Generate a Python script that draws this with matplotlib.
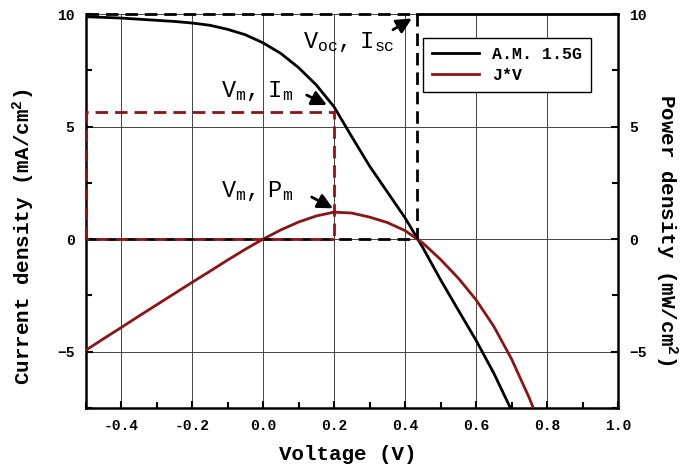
import matplotlib
matplotlib.use("Agg")
import matplotlib.pyplot as plt
from matplotlib.ticker import MultipleLocator

plt.rcParams['font.family'] = ['Liberation Mono', 'DejaVu Sans Mono']
plt.rcParams['mathtext.fontset'] = 'custom'
plt.rcParams['mathtext.rm'] = 'Liberation Mono'
plt.rcParams['mathtext.it'] = 'Liberation Mono'
plt.rcParams['mathtext.bf'] = 'Liberation Mono:bold'

# measured J-V curve under A.M. 1.5G
voltage = [-0.5, -0.45, -0.4, -0.35, -0.3, -0.25, -0.2, -0.15, -0.1, -0.05,
           0.0, 0.05, 0.1, 0.15, 0.2, 0.25, 0.3, 0.35, 0.4, 0.45,
           0.5, 0.55, 0.6, 0.65, 0.7, 0.75, 0.8]
current = [9.88, 9.85, 9.82, 9.77, 9.72, 9.67, 9.60, 9.50, 9.32, 9.08,
           8.72, 8.25, 7.62, 6.85, 5.88, 4.55, 3.25, 2.10, 0.95, -0.37,
           -1.80, -3.15, -4.49, -5.95, -7.60, -9.40, -11.3]
power = [-4.94, -4.43, -3.93, -3.42, -2.92, -2.42, -1.92, -1.43, -0.93, -0.45,
         0.0, 0.41, 0.76, 1.03, 1.20, 1.16, 0.98, 0.74, 0.38, -0.17,
         -0.90, -1.73, -2.69, -3.87, -5.32, -7.05, -9.04]

# operating points
v_oc = 0.433
i_sc = 10.0
v_m = 0.20
i_m = 5.65
p_m = 1.2

black = 'black'
red = '#8c1414'
dash = (0, (4.5, 2.5))

fig = plt.figure(figsize=(6.81, 4.67), dpi=100)
ax = fig.add_axes([0.1256, 0.1263, 0.7819, 0.8437])
ax.set_xlim(-0.5, 1.0)
ax.set_ylim(-7.5, 10)

ax.grid(True, which='major', color='#444444', lw=0.7)
ax.set_axisbelow(True)

ax.plot(voltage, current, color=black, lw=2, label='A.M. 1.5G', zorder=4)
ax.plot(voltage, power, color=red, lw=2, label='J*V', zorder=4)

# Voc / Isc box
x0 = voltage[0]
ax.plot([x0, v_oc, v_oc], [i_sc, i_sc, 0], color=black, lw=2,
        linestyle=dash, clip_on=False, zorder=5)
ax.plot([x0, v_oc], [0, 0], color=black, lw=2, linestyle=dash, zorder=5)
ax.plot([v_oc, 1.0], [i_sc, i_sc], color=black, lw=2, clip_on=False, zorder=5)

# Vm / Im box
ax.plot([x0, x0, v_m, v_m], [0, i_m, i_m, 0], color=red, lw=2,
        linestyle=dash, clip_on=False, zorder=5)
ax.plot([x0, v_m], [0, 0], color=red, lw=2, linestyle=(3.5, (4.5, 2.5)),
        zorder=5)

arrow = dict(arrowstyle='-|>,head_length=0.9,head_width=0.45', color='black',
             lw=2, shrinkA=0, shrinkB=0)
ax.annotate('', xy=(0.419, 9.8), xytext=(0.366, 9.3), arrowprops=arrow, zorder=6)
ax.annotate('', xy=(0.18, 5.96), xytext=(0.123, 6.4), arrowprops=arrow, zorder=6)
ax.annotate('', xy=(0.197, 1.37), xytext=(0.137, 1.87), arrowprops=arrow, zorder=6)

ax.text(0.113, 8.47, r'$\mathregular{V_{oc},\ I_{sc}}$', fontsize=17, zorder=6)
ax.text(-0.117, 6.31, r'$\mathregular{V_m,\ I_m}$', fontsize=17, zorder=6)
ax.text(-0.117, 1.87, r'$\mathregular{V_m,\ P_m}$', fontsize=17, zorder=6)

ax.spines['top'].set_visible(False)
for s in ['left', 'right', 'bottom']:
    ax.spines[s].set_linewidth(1.8)

ax.xaxis.set_major_locator(MultipleLocator(0.2))
ax.xaxis.set_minor_locator(MultipleLocator(0.1))
ax.yaxis.set_major_locator(MultipleLocator(5))
ax.yaxis.set_minor_locator(MultipleLocator(2.5))
ax.tick_params(which='both', direction='in', width=1.5, labelsize=10.5, pad=8)
ax.tick_params(which='major', length=5)
ax.tick_params(which='minor', length=4)
ax.set_xticks([-0.4, -0.2, 0.0, 0.2, 0.4, 0.6, 0.8, 1.0])
ax.set_xticklabels(['-0.4', '-0.2', '0.0', '0.2', '0.4', '0.6', '0.8', '1.0'],
                   fontweight='bold')
for lab in ax.get_yticklabels():
    lab.set_fontweight('bold')

ax2 = ax.twinx()
ax2.set_ylim(ax.get_ylim())
ax2.yaxis.set_major_locator(MultipleLocator(5))
ax2.yaxis.set_minor_locator(MultipleLocator(2.5))
ax2.tick_params(which='both', direction='in', width=1.5, labelsize=10.5, pad=8)
ax2.tick_params(which='major', length=5)
ax2.tick_params(which='minor', length=4)
for lab in ax2.get_yticklabels():
    lab.set_fontweight('bold')
for s in ax2.spines.values():
    s.set_visible(False)

# axis titles
fig.text(0.510, 0.026, 'Voltage (V)', fontsize=15, fontweight='bold',
         ha='center', va='center')
fig.text(0.035, 0.492, r'Current density (mA/cm$^\mathbf{2}$)', fontsize=15,
         fontweight='bold', rotation=90, ha='center', va='center')
fig.text(0.978, 0.509, r'Power density (mW/cm$^\mathbf{2}$)', fontsize=15,
         fontweight='bold', rotation=-90, ha='center', va='center')

leg = ax.legend(loc='upper left', bbox_to_anchor=(0.634, 0.94),
                borderaxespad=0, prop={'weight': 'bold', 'size': 12},
                fancybox=False, framealpha=1, edgecolor='black',
                handlelength=2.8, borderpad=0.55, labelspacing=0.35)
leg.get_frame().set_linewidth(1.0)
leg.set_zorder(7)

fig.savefig('out.png', dpi=100)
